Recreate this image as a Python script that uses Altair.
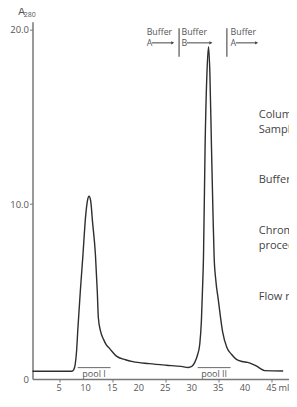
import altair as alt
import pandas as pd

# Chromatogram trace (elution volume in ml, absorbance A280)
ml = [0, 7.4, 7.75, 8.05, 8.3, 8.55, 9.0, 9.5, 10.0, 10.35, 10.65, 10.95, 11.3, 11.85,
      12.2, 12.4, 12.8, 13.4, 13.9, 14.5, 15.8, 17.5, 18.9, 22.0, 25.2, 28.0, 29.3,
      30.0, 30.6, 31.1, 31.5, 31.8, 32.0, 32.2, 32.5, 32.85, 33.15, 33.4, 33.7, 34.0,
      34.2, 34.5, 35.0, 35.8, 36.6, 37.5, 38.4, 39.5, 40.5, 41.5, 42.3, 43.0, 43.7, 47.2]
a280 = [0.44, 0.44, 0.52, 0.85, 1.6, 2.9, 5.0, 7.1, 9.3, 10.2, 10.45, 10.2, 9.0, 7.1,
        5.0, 3.5, 2.75, 2.25, 1.95, 1.75, 1.31, 1.1, 0.99, 0.88, 0.79, 0.72, 0.66,
        0.72, 0.98, 1.4, 2.0, 3.3, 5.0, 7.0, 13.3, 17.5, 19.0, 17.5, 13.3, 9.3,
        7.0, 5.7, 4.5, 2.7, 1.8, 1.4, 1.12, 1.0, 0.95, 0.84, 0.72, 0.58, 0.48, 0.46]

# Buffer change annotations
buf_x = [21.5, 28.05, 37.3]
buf_letter = ["A", "B", "A"]
arrow_x1 = [22.5, 29.1, 38.3]
arrow_x2 = [26.4, 33.6, 42.2]
switch_x = [27.6, 36.6]

# Pools
pool_label = ["pool I", "pool II"]
pool_x1 = [8.5, 31.1]
pool_x2 = [14.7, 37.3]

# Side text (cut at the right edge of the figure)
side_text = ["Column", "Sample", "Buffer", "Chromatographic", "procedure", "Flow rate"]
side_y = [15.09, 14.24, 11.38, 8.46, 7.6, 4.69]

x_ticks = [5, 10, 15, 20, 25, 30, 35, 40, 45]
y_ticks = [0, 10, 20]

FONT = "Open Sans"
GREY = "#555555"
LINE = "#2e2e2e"

xs = alt.Scale(domain=[0, 48.3], nice=False, zero=False)
ys = alt.Scale(domain=[0, 20.43], nice=False, zero=False)

trace = pd.DataFrame({"ml": ml, "A": a280})

x_axis = alt.Axis(values=x_ticks, title=None, grid=False, tickSize=3, tickColor="#777",
                  domainColor="#777", domainWidth=1.5, labels=False, tickWidth=1)
y_axis = alt.Axis(values=y_ticks, title=None, grid=False, tickSize=3, tickColor="#777",
                  domainColor="#777", domainWidth=1.5, labelPadding=1, labelFontSize=9.5,
                  labelColor=GREY, labelFont=FONT, labelOverlap=False,
                  labelExpr="datum.value == 0 ? '0' : format(datum.value, '.1f')",
                  tickOpacity={"condition": {"test": "datum.value === 0", "value": 0}, "value": 1})

line = alt.Chart(trace).mark_line(color=LINE, strokeWidth=1.4, interpolate="monotone").encode(
    x=alt.X("ml:Q", scale=xs, axis=x_axis),
    y=alt.Y("A:Q", scale=ys, axis=y_axis),
)

buf_df = pd.DataFrame({"x": buf_x, "letter": buf_letter, "x1": arrow_x1, "x2": arrow_x2,
                       "word": ["Buffer"] * 3, "yw": [19.83] * 3, "yl": [19.22] * 3})
buf_word = alt.Chart(buf_df).mark_text(align="left", baseline="middle", font=FONT,
                                       fontSize=8.8, color=GREY).encode(
    x=alt.X("x:Q", scale=xs), y=alt.Y("yw:Q", scale=ys), text="word:N")
buf_let = alt.Chart(buf_df).mark_text(align="left", baseline="middle", font=FONT,
                                      fontSize=8.8, color=GREY).encode(
    x=alt.X("x:Q", scale=xs), y=alt.Y("yl:Q", scale=ys), text="letter:N")
arrows = alt.Chart(buf_df).mark_rule(color="#444", strokeWidth=1).encode(
    x=alt.X("x1:Q", scale=xs), x2="x2:Q", y=alt.Y("yl:Q", scale=ys))
heads = alt.Chart(buf_df).mark_point(shape="triangle-right", filled=True, size=12,
                                     color="#444", opacity=1).encode(
    x=alt.X("x2:Q", scale=xs), y=alt.Y("yl:Q", scale=ys))

sw_df = pd.DataFrame({"x": switch_x, "y1": [18.43] * 2, "y2": [20.05] * 2})
switches = alt.Chart(sw_df).mark_rule(color="#555", strokeWidth=1.2).encode(
    x=alt.X("x:Q", scale=xs), y=alt.Y("y1:Q", scale=ys), y2="y2:Q")

pool_df = pd.DataFrame({"label": pool_label, "x1": pool_x1, "x2": pool_x2,
                        "xc": [(a + b) / 2 for a, b in zip(pool_x1, pool_x2)],
                        "yo": [0.65] * 2, "yt": [0.28] * 2})
pool_rules = alt.Chart(pool_df).mark_rule(color="#666", strokeWidth=1).encode(
    x=alt.X("x1:Q", scale=xs), x2="x2:Q", y=alt.Y("yo:Q", scale=ys))
pool_text = alt.Chart(pool_df).mark_text(align="center", baseline="middle", font=FONT,
                                         fontSize=9, color=GREY).encode(
    x=alt.X("xc:Q", scale=xs), y=alt.Y("yt:Q", scale=ys), text="label:N")

side_df = pd.DataFrame({"t": side_text, "y": side_y, "x": [42.6] * len(side_text)})
side = alt.Chart(side_df).mark_text(align="left", baseline="middle", font=FONT,
                                    fontSize=11, color="#444").encode(
    x=alt.X("x:Q", scale=xs), y=alt.Y("y:Q", scale=ys), text="t:N")

# x tick labels (drawn through the x scale) and the unit
xlab_df = pd.DataFrame({"t": [str(v) for v in x_ticks] + ["ml"],
                        "x": x_ticks + [47.35], "y": [-0.52] * (len(x_ticks) + 1)})
xlabels = alt.Chart(xlab_df).mark_text(align="center", baseline="middle", font=FONT,
                                       fontSize=9.2, color=GREY).encode(
    x=alt.X("x:Q", scale=xs), y=alt.Y("y:Q", scale=ys), text="t:N")

misc_df = pd.DataFrame({"t": ["A", "280"], "x": [-2.07, -0.53],
                        "y": [21.0, 20.81], "size": [10.5, 7]})
misc = alt.Chart(misc_df).mark_text(align="center", baseline="middle", font=FONT,
                                    color=GREY).encode(
    x=alt.X("x:Q", scale=xs), y=alt.Y("y:Q", scale=ys), text="t:N",
    size=alt.Size("size:Q", scale=None, legend=None))

chart = alt.layer(line, switches, arrows, heads, buf_word, buf_let, pool_rules, pool_text,
                  side, xlabels, misc).properties(
    width=256.5, height=357.3,
    autosize=alt.AutoSizeParams(type="none"),
    padding={"left": 24.5, "top": 13.7, "right": 0, "bottom": 15},
    background="white",
).configure_view(stroke=None)

chart.save("out.html", embed_options={"renderer": "svg", "actions": False})
